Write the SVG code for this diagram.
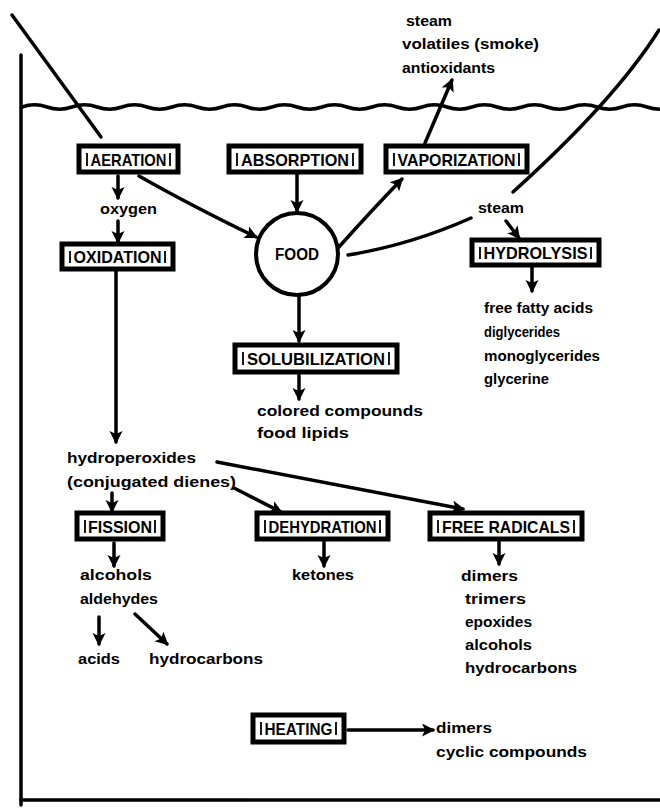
<svg xmlns="http://www.w3.org/2000/svg" width="660" height="810" viewBox="0 0 660 810">
<style>
.bg{fill:#fff}
.ln{fill:none;stroke:#000;stroke-width:3.5;stroke-linecap:round}
.ar{fill:none;stroke:#000;stroke-width:3.5;stroke-linecap:round;marker-end:url(#ah)}
.fr{fill:none;stroke:#000;stroke-width:3.5;stroke-linecap:round}
.box{fill:#fff;stroke:#000;stroke-width:5}
.bar{fill:none;stroke:#000;stroke-width:1.8}
.bl{font-family:"Liberation Sans",Arial,sans-serif;font-weight:bold;font-size:17px;fill:#000}
.t{font-family:"Liberation Sans",Arial,sans-serif;font-weight:bold;font-size:15px;fill:#000}
</style>
<defs>
<marker id="ah" markerUnits="userSpaceOnUse" markerWidth="14" markerHeight="14" refX="11" refY="6.5" orient="auto">
<path d="M0,0 L13,6.5 L0,13 L3,6.5 Z" fill="#000"/>
</marker>
</defs>
<rect class="bg" x="0" y="0" width="660" height="810"/>
<g id="frame">
<path class="fr" d="M21,55 L21,805"/>
<path class="fr" d="M21,800 L660,800"/>
<path class="fr" d="M22,107 q12.5,-4.5 25,0 t25,0 t25,0 t25,0 t25,0 t25,0 t25,0 t25,0 t25,0 t25,0 t25,0 t25,0 t25,0 t25,0 t25,0 t25,0 t25,0 t25,0 t25,0 t25,0 t25,0 t25,0 t25,0 t25,0 t25,0 t25,0"/>
<path class="ln" d="M12,15 L101,137"/>
<path class="ln" d="M659,30 Q615,100 513,192"/>
</g>
<g id="connectors">
<path class="ar" d="M425,143 L452,80"/>
<path class="ar" d="M118,176 L118,198"/>
<path class="ar" d="M118,221 L118,242"/>
<path class="ar" d="M116,271 L116,442"/>
<path class="ar" d="M139,176 Q190,205 256,237"/>
<path class="ar" d="M297,174 L297,211"/>
<path class="ar" d="M338,248 Q372,210 402,179"/>
<path class="ln" d="M348,255 Q410,245 471,218"/>
<path class="ar" d="M506,221 L519,238"/>
<path class="ar" d="M532,267 L532,291"/>
<path class="ar" d="M299,296 L299,341"/>
<path class="ar" d="M299,375 L299,399"/>
<path class="ar" d="M217,462 L463,509"/>
<path class="ar" d="M234,488 L281,512"/>
<path class="ar" d="M112,493 L112,511"/>
<path class="ar" d="M114,543 L114,566"/>
<path class="ar" d="M99,617 L99,644"/>
<path class="ar" d="M135,614 L167,644"/>
<path class="ar" d="M324,542 L324,566"/>
<path class="ar" d="M499,542 L499,564"/>
<path class="ar" d="M348,730 L433,730"/>
</g>
<g id="aeration">
<rect class="box" x="79" y="146" width="99" height="26"/>
<path class="bar" d="M87,153 L87,166 M170,153 L170,166"/>
<text class="bl" x="128.5" y="165.5" text-anchor="middle" textLength="76" lengthAdjust="spacingAndGlyphs">AERATION</text>
</g>
<g id="absorption">
<rect class="box" x="229" y="146" width="132" height="26"/>
<path class="bar" d="M237,153 L237,166 M353,153 L353,166"/>
<text class="bl" x="295" y="165.5" text-anchor="middle" textLength="108" lengthAdjust="spacingAndGlyphs">ABSORPTION</text>
</g>
<g id="vaporization">
<rect class="box" x="386" y="146" width="141" height="26"/>
<path class="bar" d="M394,153 L394,166 M519,153 L519,166"/>
<text class="bl" x="456.5" y="165.5" text-anchor="middle" textLength="118" lengthAdjust="spacingAndGlyphs">VAPORIZATION</text>
</g>
<g id="oxidation">
<rect class="box" x="62" y="244" width="111" height="25"/>
<path class="bar" d="M70,251 L70,263 M165,251 L165,263"/>
<text class="bl" x="117.5" y="263" text-anchor="middle" textLength="88" lengthAdjust="spacingAndGlyphs">OXIDATION</text>
</g>
<g id="food">
<circle cx="297" cy="254" r="41" fill="#fff" stroke="#000" stroke-width="4"/>
<text class="t" x="297" y="260" text-anchor="middle" textLength="44" lengthAdjust="spacingAndGlyphs" style="font-size:16px">FOOD</text>
</g>
<g id="hydrolysis">
<rect class="box" x="472" y="240" width="127" height="25"/>
<path class="bar" d="M480,247 L480,259 M591,247 L591,259"/>
<text class="bl" x="535.5" y="259" text-anchor="middle" textLength="104" lengthAdjust="spacingAndGlyphs">HYDROLYSIS</text>
</g>
<g id="solubilization">
<rect class="box" x="235" y="345" width="162" height="27"/>
<path class="bar" d="M243,352 L243,365 M389,352 L389,365"/>
<text class="bl" x="316" y="365" text-anchor="middle" textLength="138" lengthAdjust="spacingAndGlyphs">SOLUBILIZATION</text>
</g>
<g id="fission">
<rect class="box" x="77" y="513" width="86" height="26"/>
<path class="bar" d="M85,520 L85,533 M155,520 L155,533"/>
<text class="bl" x="120" y="532.5" text-anchor="middle" textLength="64" lengthAdjust="spacingAndGlyphs">FISSION</text>
</g>
<g id="dehydration">
<rect class="box" x="257" y="513" width="131" height="26"/>
<path class="bar" d="M265,520 L265,533 M380,520 L380,533"/>
<text class="bl" x="322.5" y="532.5" text-anchor="middle" textLength="108" lengthAdjust="spacingAndGlyphs">DEHYDRATION</text>
</g>
<g id="free-radicals">
<rect class="box" x="430" y="513" width="152" height="26"/>
<path class="bar" d="M438,520 L438,533 M574,520 L574,533"/>
<text class="bl" x="506" y="532.5" text-anchor="middle" textLength="128" lengthAdjust="spacingAndGlyphs">FREE RADICALS</text>
</g>
<g id="heating">
<rect class="box" x="253" y="715" width="91" height="27"/>
<path class="bar" d="M261,722 L261,735 M336,722 L336,735"/>
<text class="bl" x="298.5" y="735" text-anchor="middle" textLength="68" lengthAdjust="spacingAndGlyphs">HEATING</text>
</g>
<g id="labels">
<text class="t" x="406" y="26" textLength="46" lengthAdjust="spacingAndGlyphs">steam</text>
<text class="t" x="402" y="49" textLength="137" lengthAdjust="spacingAndGlyphs">volatiles (smoke)</text>
<text class="t" x="402" y="73" textLength="93" lengthAdjust="spacingAndGlyphs">antioxidants</text>
<text class="t" x="100" y="214" textLength="57" lengthAdjust="spacingAndGlyphs">oxygen</text>
<text class="t" x="478" y="213" textLength="46" lengthAdjust="spacingAndGlyphs">steam</text>
<text class="t" x="484" y="313" textLength="109" lengthAdjust="spacingAndGlyphs">free fatty acids</text>
<text class="t" x="484" y="337" textLength="76" lengthAdjust="spacingAndGlyphs">diglycerides</text>
<text class="t" x="484" y="361" textLength="116" lengthAdjust="spacingAndGlyphs">monoglycerides</text>
<text class="t" x="484" y="384" textLength="65" lengthAdjust="spacingAndGlyphs">glycerine</text>
<text class="t" x="257" y="416" textLength="166" lengthAdjust="spacingAndGlyphs">colored compounds</text>
<text class="t" x="257" y="438" textLength="92" lengthAdjust="spacingAndGlyphs">food lipids</text>
<text class="t" x="67" y="463" textLength="129" lengthAdjust="spacingAndGlyphs">hydroperoxides</text>
<text class="t" x="67" y="487" textLength="169" lengthAdjust="spacingAndGlyphs">(conjugated dienes)</text>
<text class="t" x="80" y="580" textLength="72" lengthAdjust="spacingAndGlyphs">alcohols</text>
<text class="t" x="80" y="604" textLength="78" lengthAdjust="spacingAndGlyphs">aldehydes</text>
<text class="t" x="78" y="664" textLength="42" lengthAdjust="spacingAndGlyphs">acids</text>
<text class="t" x="149" y="664" textLength="114" lengthAdjust="spacingAndGlyphs">hydrocarbons</text>
<text class="t" x="292" y="580" textLength="62" lengthAdjust="spacingAndGlyphs">ketones</text>
<text class="t" x="461" y="581" textLength="57" lengthAdjust="spacingAndGlyphs">dimers</text>
<text class="t" x="465" y="604" textLength="61" lengthAdjust="spacingAndGlyphs">trimers</text>
<text class="t" x="465" y="627" textLength="67" lengthAdjust="spacingAndGlyphs">epoxides</text>
<text class="t" x="465" y="650" textLength="67" lengthAdjust="spacingAndGlyphs">alcohols</text>
<text class="t" x="465" y="673" textLength="112" lengthAdjust="spacingAndGlyphs">hydrocarbons</text>
<text class="t" x="436" y="733" textLength="56" lengthAdjust="spacingAndGlyphs">dimers</text>
<text class="t" x="436" y="757" textLength="151" lengthAdjust="spacingAndGlyphs">cyclic compounds</text>
</g>
</svg>
